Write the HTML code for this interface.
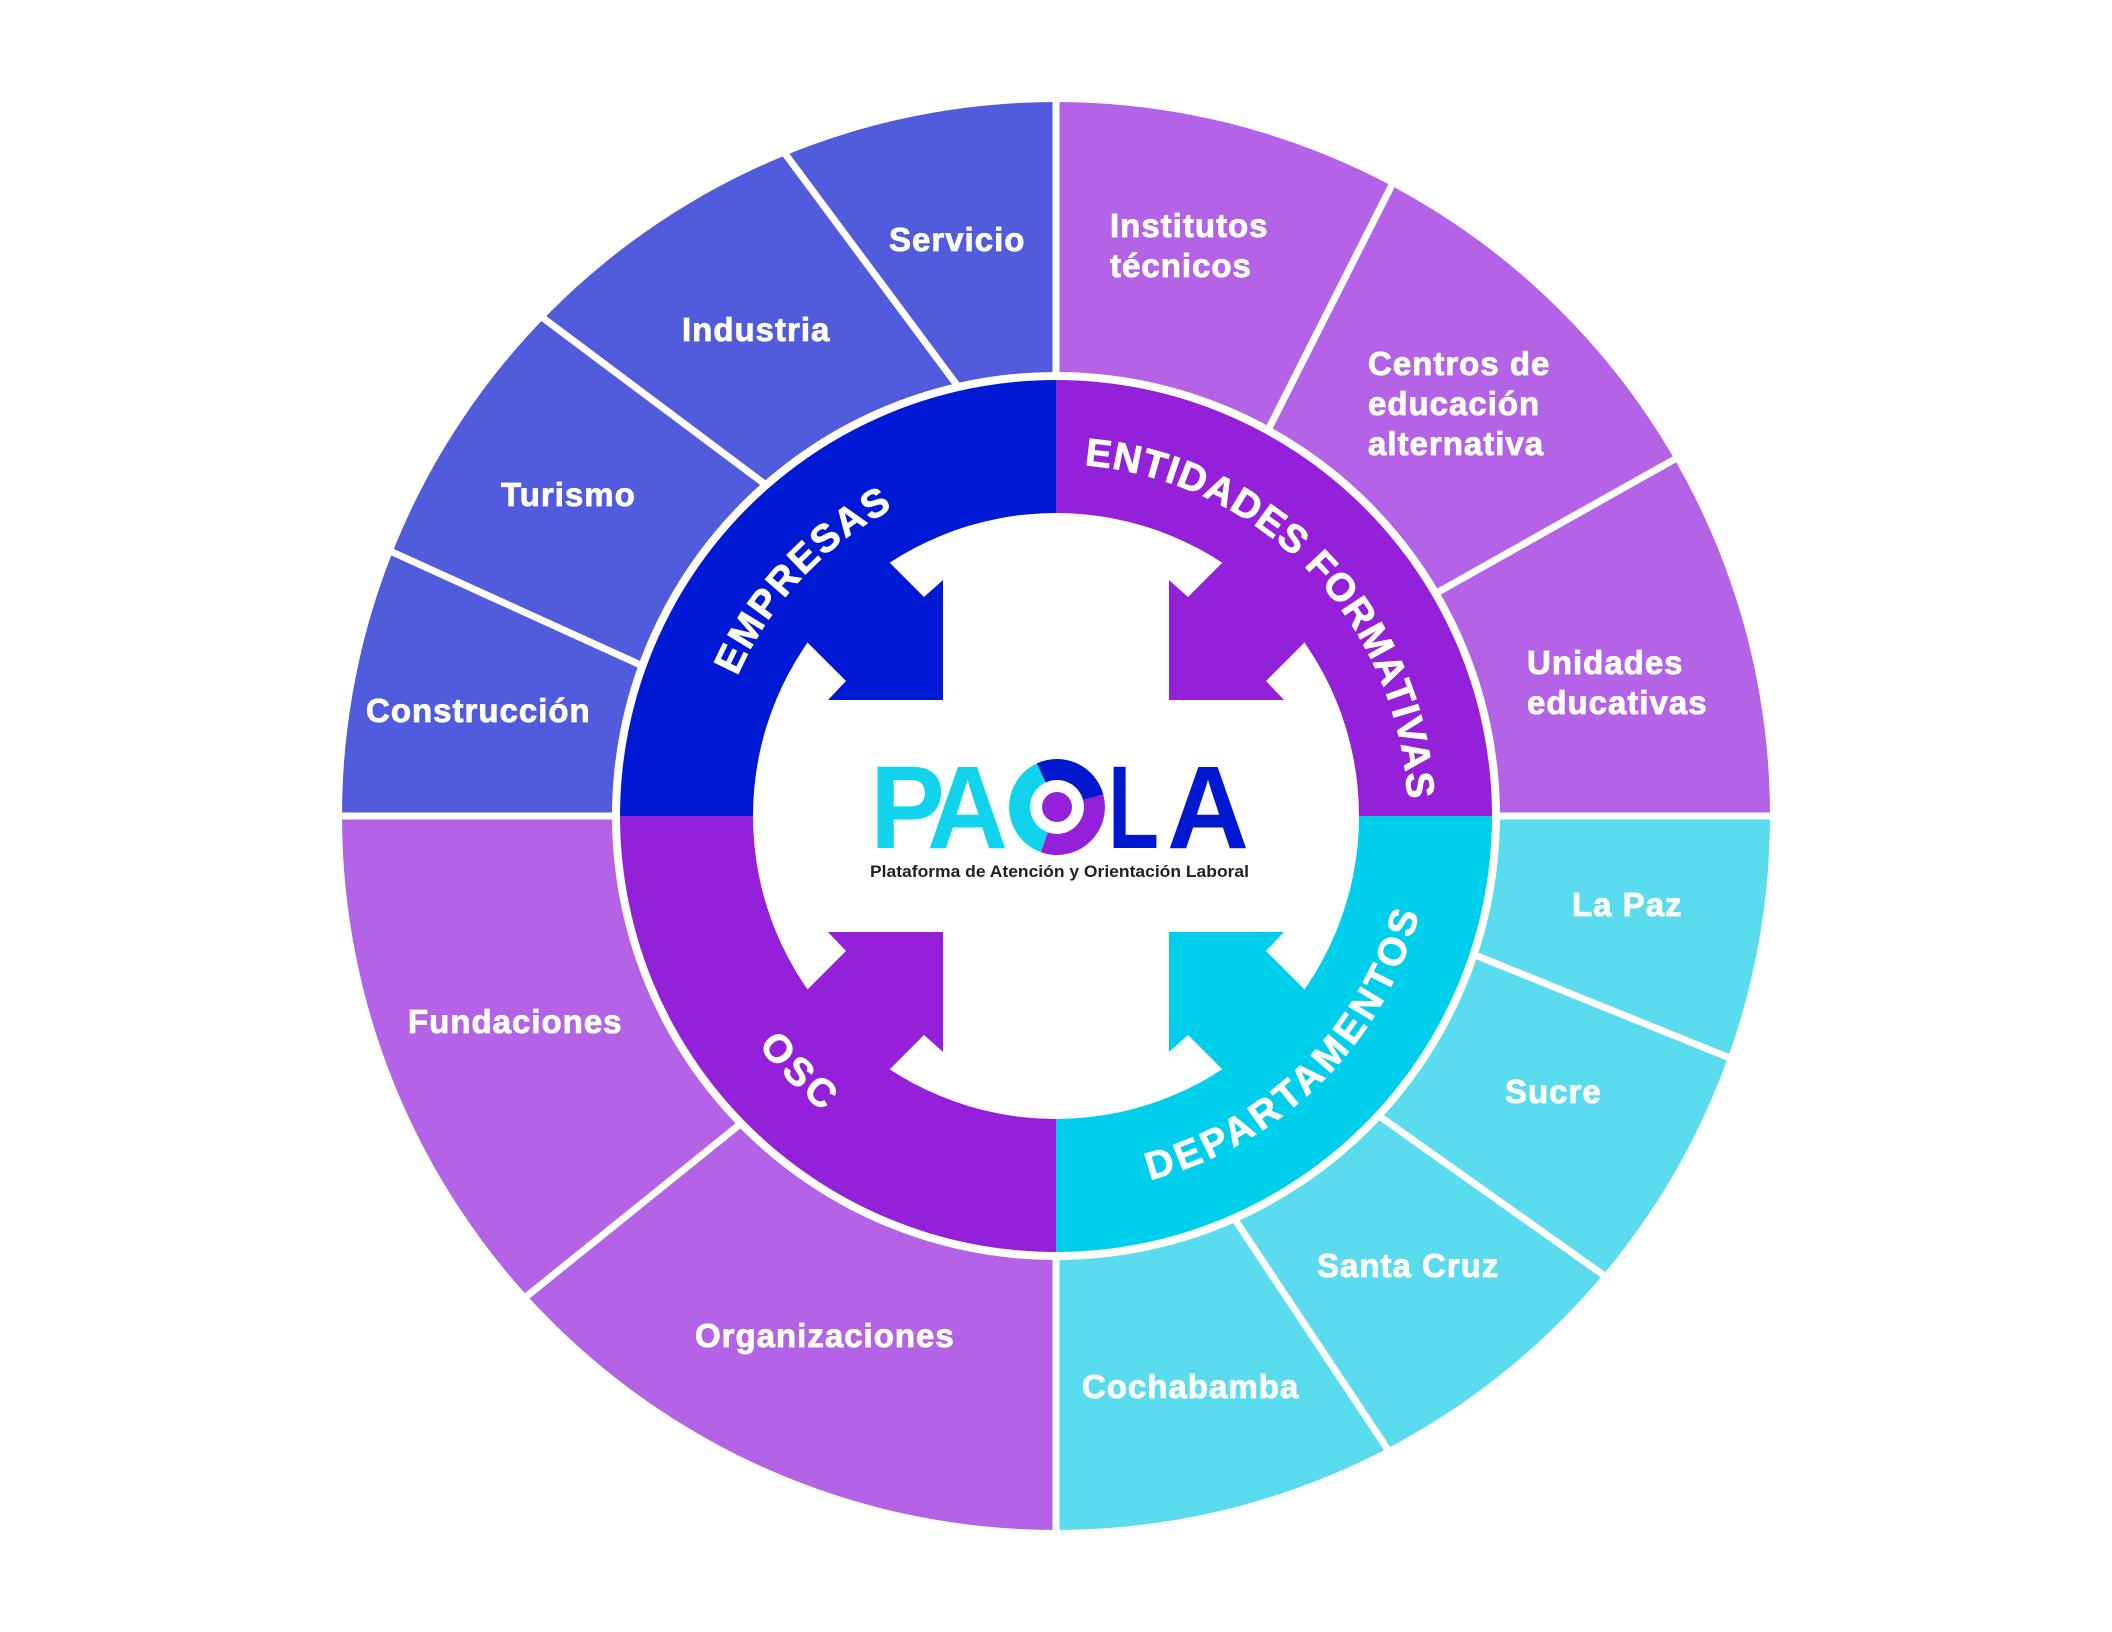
<!DOCTYPE html>
<html><head><meta charset="utf-8"><style>
html,body{margin:0;padding:0;background:#fff;}
svg{display:block;}
.o{font-family:"Liberation Sans",sans-serif;font-weight:bold;font-size:33px;fill:#fff;stroke:#fff;stroke-width:0.8px;letter-spacing:1px;}
.m{font-family:"Liberation Sans",sans-serif;font-weight:bold;font-size:39px;fill:#fff;stroke:#fff;stroke-width:0.8px;}
</style></head><body>
<svg width="2112" height="1632" viewBox="0 0 2112 1632" xmlns="http://www.w3.org/2000/svg">
<defs>
<path id="pEmp" d="M713.3 876.4 A348 348 0 0 1 1092.4 469.9"/>
<path id="pEnt" d="M880 511.2 A352 352 0 0 1 1354.5 1002.5"/>
<path id="pDep" d="M927.4 1169.3 A376 376 0 0 0 1409.3 687.4"/>
<path id="pOsc" d="M702.7 687.4 A376 376 0 0 0 1184.6 1169.3"/>
</defs>
<path d="M1056 816 L342 816 A714 714 0 0 1 1056 102 Z" fill="#505CDC"/>
<path d="M1056 816 L1056 102 A714 714 0 0 1 1770 816 Z" fill="#B463E6"/>
<path d="M1056 816 L1770 816 A714 714 0 0 1 1056 1530 Z" fill="#5ADCEE"/>
<path d="M1056 816 L1056 1530 A714 714 0 0 1 342 816 Z" fill="#B463E6"/>
<g stroke="#fff" stroke-width="7" fill="none">
<line x1="300" y1="816" x2="1812" y2="816"/>
<line x1="1056" y1="60" x2="1056" y2="1580"/>
<line x1="968" y1="400" x2="763" y2="124"/>
<line x1="778" y1="494" x2="515" y2="297"/>
<line x1="656" y1="672" x2="357" y2="536"/>
<line x1="1260" y1="446" x2="1408" y2="153"/>
<line x1="1424" y1="600" x2="1707" y2="441"/>
<line x1="1460" y1="949" x2="1762" y2="1071"/>
<line x1="1365" y1="1106" x2="1633" y2="1296"/>
<line x1="1224" y1="1203" x2="1408" y2="1480"/>
<line x1="754" y1="1113" x2="496" y2="1321"/>
</g>
<circle cx="1056" cy="816" r="444" fill="#fff"/>
<path d="M1056 816 L620 816 A436 436 0 0 1 1056 380 Z" fill="#0019D4"/>
<path d="M1056 816 L1056 380 A436 436 0 0 1 1492 816 Z" fill="#9420DA"/>
<path d="M1056 816 L1492 816 A436 436 0 0 1 1056 1252 Z" fill="#00CFEC"/>
<path d="M1056 816 L1056 1252 A436 436 0 0 1 620 816 Z" fill="#9420DA"/>
<circle cx="1056" cy="816" r="303" fill="#fff"/>
<polygon fill="#0019D4" points="800,555 890,563 924,597 943,580 943,700 828,700 846,681 808,643"/>
<polygon fill="#9420DA" points="1312,555 1222,563 1188,597 1169,580 1169,700 1284,700 1266,681 1304,643"/>
<polygon fill="#9420DA" points="800,1077 890,1069 924,1035 943,1052 943,932 828,932 846,951 808,989"/>
<polygon fill="#00CFEC" points="1312,1077 1222,1069 1188,1035 1169,1052 1169,932 1284,932 1266,951 1304,989"/>
<text class="m" letter-spacing="2"><textPath href="#pEmp" startOffset="50%" text-anchor="middle">EMPRESAS</textPath></text>
<text class="m" letter-spacing="1"><textPath href="#pEnt" startOffset="50%" text-anchor="middle">ENTIDADES FORMATIVAS</textPath></text>
<text class="m" letter-spacing="4"><textPath href="#pDep" startOffset="50%" text-anchor="middle">DEPARTAMENTOS</textPath></text>
<text class="m" letter-spacing="4"><textPath href="#pOsc" startOffset="50%" text-anchor="middle">OSC</textPath></text>
<text class="o" x="889" y="251">Servicio</text>
<text class="o" x="682" y="341">Industria</text>
<text class="o" x="501" y="506">Turismo</text>
<text class="o" x="366" y="722">Construcción</text>
<text class="o" x="1110" y="237">Institutos</text>
<text class="o" x="1110" y="277">técnicos</text>
<text class="o" x="1368" y="375">Centros de</text>
<text class="o" x="1368" y="415">educación</text>
<text class="o" x="1368" y="455">alternativa</text>
<text class="o" x="1527" y="674">Unidades</text>
<text class="o" x="1527" y="714">educativas</text>
<text class="o" x="1572" y="916">La Paz</text>
<text class="o" x="1505" y="1103">Sucre</text>
<text class="o" x="1317" y="1277">Santa Cruz</text>
<text class="o" x="1082" y="1398">Cochabamba</text>
<text class="o" x="408" y="1033">Fundaciones</text>
<text class="o" x="695" y="1347">Organizaciones</text>
<g font-family="Liberation Sans, sans-serif" font-weight="bold" font-size="118">
<text x="870" y="848" fill="#12D3EC" textLength="75" lengthAdjust="spacingAndGlyphs">P</text>
<text x="927" y="848" fill="#12D3EC" textLength="81" lengthAdjust="spacingAndGlyphs">A</text>
<text x="1108" y="848" fill="#0019D0" textLength="51" lengthAdjust="spacingAndGlyphs">L</text>
<text x="1167" y="848" fill="#0019D0" textLength="82" lengthAdjust="spacingAndGlyphs">A</text>
</g>
<g fill="none" stroke-width="21">
<path d="M1041.2 773 A37.5 37.5 0 0 1 1093.2 797.3" stroke="#0019D0"/>
<path d="M1093.2 797.3 A37.5 37.5 0 0 1 1044.2 842.2" stroke="#9420DA"/>
<path d="M1044.2 842.2 A37.5 37.5 0 0 1 1041.2 773" stroke="#12D3EC"/>
</g>
<circle cx="1057" cy="807" r="15" fill="#9420DA"/>
<text x="870" y="877" font-family="Liberation Sans, sans-serif" font-weight="bold" font-size="17" fill="#231f20" textLength="379" lengthAdjust="spacingAndGlyphs">Plataforma de Atención y Orientación Laboral</text>
</svg>
</body></html>
